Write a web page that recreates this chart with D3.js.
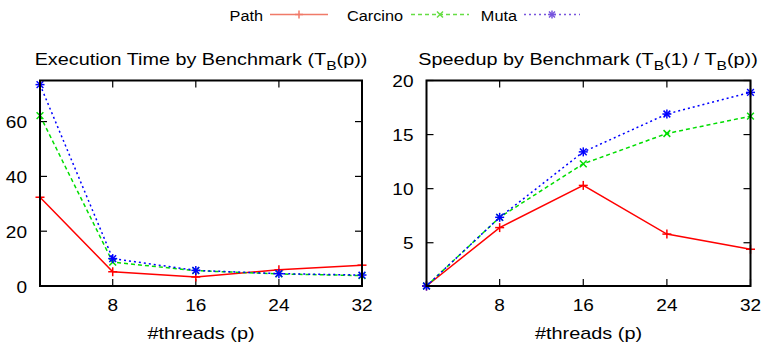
<!DOCTYPE html>
<html lang="en">
    <head>
        <meta charset="utf-8">
        <title>Execution time and speedup</title>
        <script src="https://d3js.org/d3.v7.min.js"></script>
        <style>
            body { margin: 0; background: #fff; }
            text { font-family: "Liberation Sans", Arial, sans-serif; fill: #000; }
        </style>
    </head>
    <body>
        <script type="text/javascript">
            var threads = [1, 8, 16, 24, 32];
            var xTicks = [8, 16, 24, 32];

            var timePath = [32.4, 5.2, 3.3, 5.9, 7.6];
            var timeCarcino = [62.2, 8.7, 5.6, 4.4, 3.8];
            var timeMuta = [73.5, 10.0, 5.7, 4.5, 4.0];
            var timeTicks = [0, 20, 40, 60];

            var speedPath = [1, 6.4, 10.3, 5.8, 4.4];
            var speedCarcino = [1, 7.35, 12.3, 15.1, 16.7];
            var speedMuta = [1, 7.35, 13.4, 16.9, 18.9];
            var speedTicks = [5, 10, 15, 20];

            var seriesNames = ["Path", "Carcino", "Muta"];

            var styles = {
                "Path": { color: "#ff0000", key: "#f07a68", dash: null, marker: "plus" },
                "Carcino": { color: "#00dd00", key: "#66dd44", dash: "4,3", marker: "cross" },
                "Muta": { color: "#0000ff", key: "#7755dd", dash: "2,3", marker: "star" }
            };

            var width = 764, height = 349;
            var svg = d3.select("body").append("svg")
                .attr("width", width)
                .attr("height", height);

            // gnuplot's text is a bit wider than Liberation Sans, so stretch it
            function label(g, x, y, anchor, size, stretch) {
                return g.append("g")
                    .attr("transform", "translate(" + x + "," + y + ") scale(" + stretch + ",1)")
                    .append("text")
                    .attr("text-anchor", anchor)
                    .attr("font-size", size);
            }

            function marker(g, type, cx, cy, color, s) {
                var p = [];
                if (type == "plus" || type == "star") {
                    p.push([[cx - s, cy], [cx + s, cy]], [[cx, cy - s], [cx, cy + s]]);
                }
                if (type == "cross" || type == "star") {
                    var d = s * 0.75;
                    p.push([[cx - d, cy - d], [cx + d, cy + d]], [[cx - d, cy + d], [cx + d, cy - d]]);
                }
                p.forEach(function (seg) {
                    g.append("line")
                        .attr("x1", seg[0][0]).attr("y1", seg[0][1])
                        .attr("x2", seg[1][0]).attr("y2", seg[1][1])
                        .attr("stroke", color)
                        .attr("stroke-width", 1.5);
                });
            }

            function panel(opts) {
                var x = d3.scaleLinear().domain([1, 32]).range([opts.left, opts.right]);
                var y = d3.scaleLinear().domain(opts.yDomain).range([286, 80.5]);
                var g = svg.append("g");

                // ticks, mirrored on all sides
                xTicks.forEach(function (t) {
                    g.append("line").attr("x1", x(t)).attr("x2", x(t))
                        .attr("y1", 286).attr("y2", 279).attr("stroke", "#000").attr("stroke-width", 1.2);
                    g.append("line").attr("x1", x(t)).attr("x2", x(t))
                        .attr("y1", 80.5).attr("y2", 87.5).attr("stroke", "#000").attr("stroke-width", 1.2);
                    label(g, x(t), 311, "middle", 17, 1.12).text(t);
                });
                opts.yTicks.forEach(function (t) {
                    g.append("line").attr("x1", opts.left).attr("x2", opts.left + 7)
                        .attr("y1", y(t)).attr("y2", y(t)).attr("stroke", "#000").attr("stroke-width", 1.2);
                    g.append("line").attr("x1", opts.right).attr("x2", opts.right - 7)
                        .attr("y1", y(t)).attr("y2", y(t)).attr("stroke", "#000").attr("stroke-width", 1.2);
                    label(g, opts.left - 13, y(t) + 6.5, "end", 17, 1.12).text(t);
                });

                var line = d3.line()
                    .x(function (d) { return x(d[0]); })
                    .y(function (d) { return y(d[1]); });

                seriesNames.forEach(function (name, i) {
                    var st = styles[name];
                    var pts = threads.map(function (t, j) { return [t, opts.series[i][j]]; });
                    g.append("path")
                        .attr("d", line(pts))
                        .attr("fill", "none")
                        .attr("stroke", st.color)
                        .attr("stroke-width", 1.5)
                        .attr("stroke-dasharray", st.dash);
                    pts.forEach(function (p) {
                        marker(g, st.marker, x(p[0]), y(p[1]), st.color, 4.5);
                    });
                });

                g.append("rect")
                    .attr("x", opts.left).attr("y", 80.5)
                    .attr("width", opts.right - opts.left).attr("height", 286 - 80.5)
                    .attr("fill", "none").attr("stroke", "#000").attr("stroke-width", 2);

                var title = label(g, (opts.left + opts.right) / 2 + opts.titleShift, 65, "middle", 16.5, 1.2);
                var shift = 0;
                opts.title.forEach(function (part) {
                    var ts = title.append("tspan").text(part.t);
                    if (part.sub) {
                        ts.attr("dy", 5).attr("font-size", 13);
                        shift = -5;
                    } else if (shift) {
                        ts.attr("dy", shift);
                        shift = 0;
                    }
                });

                label(g, (opts.left + opts.right) / 2, 339, "middle", 17, 1.17)
                    .text("#threads (p)");
            }

            panel({
                left: 40, right: 362,
                yDomain: [0, 75], yTicks: timeTicks,
                series: [timePath, timeCarcino, timeMuta],
                titleShift: 0,
                title: [{ t: "Execution Time by Benchmark (T" }, { t: "B", sub: true }, { t: "(p))" }]
            });

            panel({
                left: 426.5, right: 750.5,
                yDomain: [1, 20], yTicks: speedTicks,
                series: [speedPath, speedCarcino, speedMuta],
                titleShift: -0.5,
                title: [{ t: "Speedup by Benchmark (T" }, { t: "B", sub: true }, { t: "(1) / T" },
                        { t: "B", sub: true }, { t: "(p))" }]
            });

            // legend across the top
            var keyItems = [
                { name: "Path", textEnd: 263, x1: 270, x2: 328 },
                { name: "Carcino", textEnd: 403, x1: 411, x2: 469 },
                { name: "Muta", textEnd: 517, x1: 524, x2: 580 }
            ];
            var key = svg.append("g");
            keyItems.forEach(function (k) {
                var st = styles[k.name];
                label(key, k.textEnd, 20.5, "end", 15.5, 1.05).text(k.name);
                key.append("line").attr("x1", k.x1).attr("x2", k.x2)
                    .attr("y1", 14.5).attr("y2", 14.5)
                    .attr("stroke", st.key).attr("stroke-width", 1.5)
                    .attr("stroke-dasharray", st.dash);
                marker(key, st.marker, (k.x1 + k.x2) / 2, 14.5, st.key, 4);
            });
        </script>
    </body>
</html>
